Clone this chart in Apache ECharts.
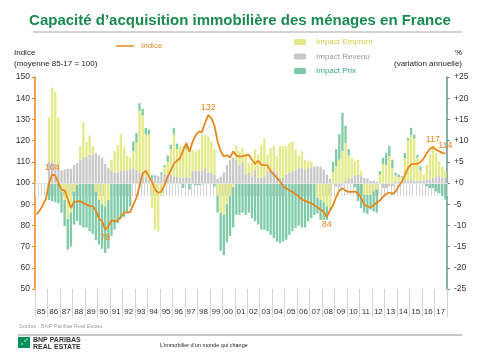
<!DOCTYPE html>
<html><head><meta charset="utf-8">
<script src="https://cdn.jsdelivr.net/npm/echarts@6/dist/echarts.min.js"></script>
<style>html,body{margin:0;padding:0;background:#fff}#c{width:480px;height:360px}</style>
</head><body><div id="c"></div>
<script>
const years = ['85','86','87','88','89','90','91','92','93','94','95','96','97','98','99','00','01','02','03','04','05','06','07','08','09','10','11','12','13','14','15','16','17'];
const quarters = years.flatMap(y => ['T1','T2','T3','T4'].map(q => y + q));

const indice = [
  85, 87, 89.5, 92.5,  100, 104, 103.5, 100,  96.8, 96.5, 92.5, 88.2,  91, 91.3, 91.5, 90.5,
  89.8, 89.2, 89, 87,  83, 82, 78, 79.5,  82.5, 82, 82.3, 84,  86, 86.1, 86.3, 89.8,
  93, 98.5, 104.5, 105.8,  103, 100.5, 96.8, 95.3,  96, 99, 103, 106,  109, 110.5, 111.8, 115.5,
  118.9, 114.8, 119.5, 122.5,  124.3, 124, 128.5, 132,  130.6, 127, 119.5, 115,  112.5, 113.2, 112, 114.9,
  112.9, 112.5, 112.7, 113,  113.3, 111, 109, 110.5,  108.6, 108.4, 108.3, 105.5,  103.9, 102.4, 100.8, 98.4,
  97.5, 96.6, 95.8, 94.8,  93.7, 92.2, 91.7, 91,  90.5, 89.5, 88.5, 87.4,  86.5, 84, 87, 89.5,
  93.5, 96.5, 97.5, 96.4,  95.8, 95.8, 96, 95,  92.9, 89.8, 89, 88.5,  89.5, 90.8, 91.8, 93.5,
  94.8, 95.5, 94.8, 96,  98.5, 100.5, 103.5, 107,  108.8, 109, 109, 109.8,  111.5, 114, 116, 117,
  115.7, 114.9, 114.2, 114
];
const revenu = [
  null, null, null, null,  5, 5, 4.5, 3.5,  3, 3.2, 3.3, 3.3,  4.3, 4.7, 5.5, 5.9,
  6.2, 6.7, 6.7, 7,  6.5, 6, 4.5, 3.5,  3, 2.5, 2.5, 3,  3, 3, 3.2, 3.5,
  3, 2.5, 2, 1.5,  1, 1, 1.3, 1.6,  2, 2.2, 2, 2,  1.5, 1.5, 1.2, 1.2,
  1.6, 1.2, 2.8, 3,  3, 3, 3.5, 2.5,  2.5, 2, 1, 1.5,  2.5, 4.3, 5.5, 6,
  5.5, 4, 4.7, 2,  2.4, 1.5, 3.1, 1.2,  1.2, 1.6, 2.7, 3.1,  3.1, 2.4, 1.2, 1.2,
  2, 2.4, 2.8, 3.1,  3.5, 3.5, 3.2, 3.5,  3.7, 3.9, 3.9, 3.9,  3.2, 2, 1, -0.3,
  -0.8, -1, -0.5, 0.5,  1, 1.3, 1.8, 2,  1.6, 1.2, 1, 0.5,  0.5, 0.3, 0, -1.2,
  -1.2, -0.8, -0.8, 0.3,  0.4, 0.5, 0.6, 0.6,  0.7, 0.5, 0.5, 0.5,  0.6, 0.8, 0.8, 1.2,
  1.6, 1.6, 1.2, 1.2
];
const emprunt = [
  null, null, null, null,  10.5, 17.5, 17, 12,  -2, -4, -8.5, -7,  -2, -0.5, 3.2, 8.4,
  3.5, 4.5, 2, -2,  -4, -5, -5.5, -4,  2.5, 5, 6.5, 8.5,  5.5, 3.5, 2.8, 4,
  6.5, 14.5, 14, 10,  10.4, -6, -11, -11.5,  -3, 1.5, 3, 6,  10, 6.5, 7.5, 7.5,
  6.5, 6.6, 5, 4.5,  5, 8.5, 8, 8.5,  7.3, 6, -3, -7,  -7.5, -5, -3, -1,
  3.2, 3.5, 3.6, 5,  2.3, 3.2, 4.8, 5.5,  7.8, 9, 4, 5.2,  5.6, 3.9, 7.5, 7.5,
  6.7, 7, 7, 4.8,  3, 4, 2.3, 1.7,  1.3, 0, -3.5, -4,  -4.5, -5.5, -6, 2.5,
  4, 5.5, 7.5, 9,  5.5, 4.6, 3.3, 3.5,  1.2, -2.8, -2.8, -2.8,  -2, -1.5, 2, 4.5,
  4.3, 6.3, 3.5, 1.5,  1, 0.8, 5.3, 9.4,  10.6, 10, 5.5, 2.5,  1.4, 3.5, 6, 7.5,
  5.5, 3.5, 2.7, 1.6
];
const prix = [
  null, null, null, null,  -4, -4.3, -4.5, -4.8,  -5, -6.2, -7.2, -8,  -7.8, -8.5, -10, -10.5,
  -10.5, -11.4, -12, -11.5,  -10.5, -10.5, -11, -11.5,  -12.5, -11, -9.5, -8.5,  -8, -7, -5.5, 2.3,
  2.3, 1.8, 1.5, 1.5,  1.2, 0.8, 0.5, 0,  0.5, 0.5, 1.5, 1,  1.5, 1.3, 0, -1.2,
  1.2, -1.5, 0, -0.5,  -0.5, -0.3, 0, 0,  0, -0.8, -4, -9,  -9.5, -9, -9.5, -9.5,
  -7.5, -7.5, -7, -7.5,  -7, -8.3, -9, -9.8,  -11, -11, -11.4, -12.2,  -13, -13.8, -14.2, -13.8,
  -13.4, -12.2, -11.4, -10.6,  -10, -10.5, -10.5, -9,  -8.3, -7.5, -3.7, -4.7,  -4.2, -3.2, -0.5, 2.5,
  4, 6, 9, 4,  1.5, 0, -1, -4.3,  -5.9, -4.2, -4.5, -3.5,  -4.7, -5.5, 0.8, 1.4,
  2.8, 2.4, 2, 0.6,  0.6, 0.3, 1.2, 0.6,  1.7, 0.9, 0.6, 0.9,  -0.3, -0.8, -1.2, -1.2,
  -2, -2.4, -3.1, -3.9
];
const leftTicks = [50, 150, 10];
const rightTicks = [-25, 25, 5];
const labelAt = [[5, 'top'], [22, 'bottom'], [55, 'top'], [93, 'bottom'], [127, 'top'], [131, 'top']];

const ORANGE = '#E8871E', YELLOW = '#E4EA88', GREY = '#C8C8C8', TEAL = '#7FCBA7';
const FONT = 'Liberation Sans, Arial, sans-serif';

const lineData = indice.map((v, i) => {
  const hit = labelAt.find(p => p[0] === i);
  if (!hit) return v;
  return { value: v, label: { show: true, position: hit[1], distance: 3, color: ORANGE, fontSize: 9, formatter: p => Math.round(p.value) } };
});

const chart = echarts.init(document.getElementById('c'), null, { renderer: 'canvas' });
chart.setOption({
  animation: false,
  textStyle: { fontFamily: FONT },
  title: {
    text: 'Capacité d’acquisition immobilière des ménages en France',
    left: 'center', top: 8,
    textStyle: { fontSize: 15, fontWeight: 'bold', color: '#1A8A4F', fontFamily: FONT }
  },
  legend: [
    { data: [{ name: 'Indice', textStyle: { color: ORANGE } }], left: 111, top: 37, icon: 'rect',
      itemWidth: 18, itemHeight: 1.5, textStyle: { fontSize: 8, fontFamily: FONT, padding: [0, 0, 0, 2] } },
    { data: [{ name: 'Impact Emprunt', textStyle: { color: '#CBD24C' } },
             { name: 'Impact Revenu', textStyle: { color: '#9A9A9A' } },
             { name: 'Impact Prix', textStyle: { color: '#3FAA7C' } }],
      orient: 'vertical', left: 289, top: 33, itemWidth: 12, itemHeight: 6, itemGap: 6.5,
      textStyle: { fontSize: 8, fontFamily: FONT, padding: [0, 0, 0, 5] } }
  ],
  grid: { left: 35, right: 33, top: 77, bottom: 71, containLabel: false },
  xAxis: [
    { type: 'category', data: quarters, boundaryGap: true,
      axisLine: { lineStyle: { color: '#cccccc', width: 1 } },
      axisTick: { show: true, interval: 0, length: 13, lineStyle: { color: '#d3d3d3' } },
      axisLabel: { show: false } },
    { type: 'category', data: years, position: 'bottom', boundaryGap: true,
      axisLine: { show: false },
      axisTick: { show: true, interval: 0, length: 28, lineStyle: { color: '#d3d3d3' } },
      axisLabel: { interval: 0, fontSize: 8, margin: 19, color: '#333' } }
  ],
  yAxis: [
    { type: 'value', min: leftTicks[0], max: leftTicks[1], interval: leftTicks[2], position: 'left',
      axisLine: { show: true, lineStyle: { color: ORANGE, width: 1.5 } },
      axisTick: { show: true, length: 3, lineStyle: { color: ORANGE } },
      axisLabel: { fontSize: 8.5, color: '#333', margin: 5 },
      splitLine: { show: false } },
    { type: 'value', min: rightTicks[0], max: rightTicks[1], interval: rightTicks[2], position: 'right',
      axisLine: { show: true, lineStyle: { color: '#5E9684', width: 1.5 } },
      axisTick: { show: true, length: 3, lineStyle: { color: '#5E9684' } },
      axisLabel: { fontSize: 8.5, color: '#333', margin: 7, formatter: v => (v >= 0 ? '+' + v : String(v)) },
      splitLine: { show: false } }
  ],
  series: [
    { name: 'Impact Revenu', type: 'bar', yAxisIndex: 1, stack: 'b', data: revenu,
      barWidth: '74%', itemStyle: { color: GREY } },
    { name: 'Impact Emprunt', type: 'bar', yAxisIndex: 1, stack: 'b', data: emprunt,
      barWidth: '74%', itemStyle: { color: YELLOW } },
    { name: 'Impact Prix', type: 'bar', yAxisIndex: 1, stack: 'b', data: prix,
      barWidth: '74%', itemStyle: { color: TEAL },
      markLine: { silent: true, symbol: 'none', label: { show: false },
        lineStyle: { color: '#e6e6e6', width: 1, type: 'solid' }, data: [{ yAxis: 0 }] } },
    { name: 'Indice', type: 'line', yAxisIndex: 0, data: lineData, z: 5,
      symbol: 'circle', symbolSize: 0, showAllSymbol: true,
      lineStyle: { color: ORANGE, width: 1.8 }, itemStyle: { color: ORANGE } }
  ],
  graphic: [
    { type: 'line', shape: { x1: 33, y1: 32, x2: 462, y2: 32 }, style: { stroke: '#a8a8a8', lineWidth: 1 } },
    { type: 'text', x: 14, y: 53, style: { text: 'Indice', fontSize: 8, fill: '#222', fontFamily: FONT, verticalAlign: 'middle' } },
    { type: 'text', x: 14, y: 64, style: { text: '(moyenne 85-17 = 100)', fontSize: 8, fill: '#222', fontFamily: FONT, verticalAlign: 'middle' } },
    { type: 'text', x: 462, y: 53, style: { text: '%', fontSize: 8, fill: '#222', fontFamily: FONT, align: 'right', verticalAlign: 'middle' } },
    { type: 'text', x: 462, y: 64, style: { text: '(variation annuelle)', fontSize: 8, fill: '#222', fontFamily: FONT, align: 'right', verticalAlign: 'middle' } },
    { type: 'text', x: 19, y: 326, style: { text: 'Source : BNP Paribas Real Estate', fontSize: 5.5, fill: '#a0a0a0', fontFamily: FONT, verticalAlign: 'middle' } },
    { type: 'line', shape: { x1: 18, y1: 335, x2: 462, y2: 335 }, style: { stroke: '#c8c8c8', lineWidth: 2 } },
    { type: 'rect', shape: { x: 18, y: 337, width: 12, height: 11 }, style: { fill: '#00915A' } },
    { type: 'circle', shape: { cx: 22, cy: 344, r: 0.8 }, style: { fill: '#fff' } },
    { type: 'circle', shape: { cx: 25, cy: 341, r: 0.8 }, style: { fill: '#fff' } },
    { type: 'circle', shape: { cx: 27, cy: 339.5, r: 0.7 }, style: { fill: '#fff' } },
    { type: 'text', x: 33, y: 340.5, style: { text: 'BNP PARIBAS', fontSize: 7, fontWeight: 'bold', fill: '#333', fontFamily: FONT, verticalAlign: 'middle' } },
    { type: 'text', x: 33, y: 347, style: { text: 'REAL ESTATE', fontSize: 7, fontWeight: 'bold', fill: '#333', fontFamily: FONT, verticalAlign: 'middle' } },
    { type: 'text', x: 160, y: 345, style: { text: 'L’immobilier d’un monde qui change', fontSize: 5.5, fill: '#222', fontFamily: FONT, verticalAlign: 'middle' } }
  ]
});
</script></body></html>
